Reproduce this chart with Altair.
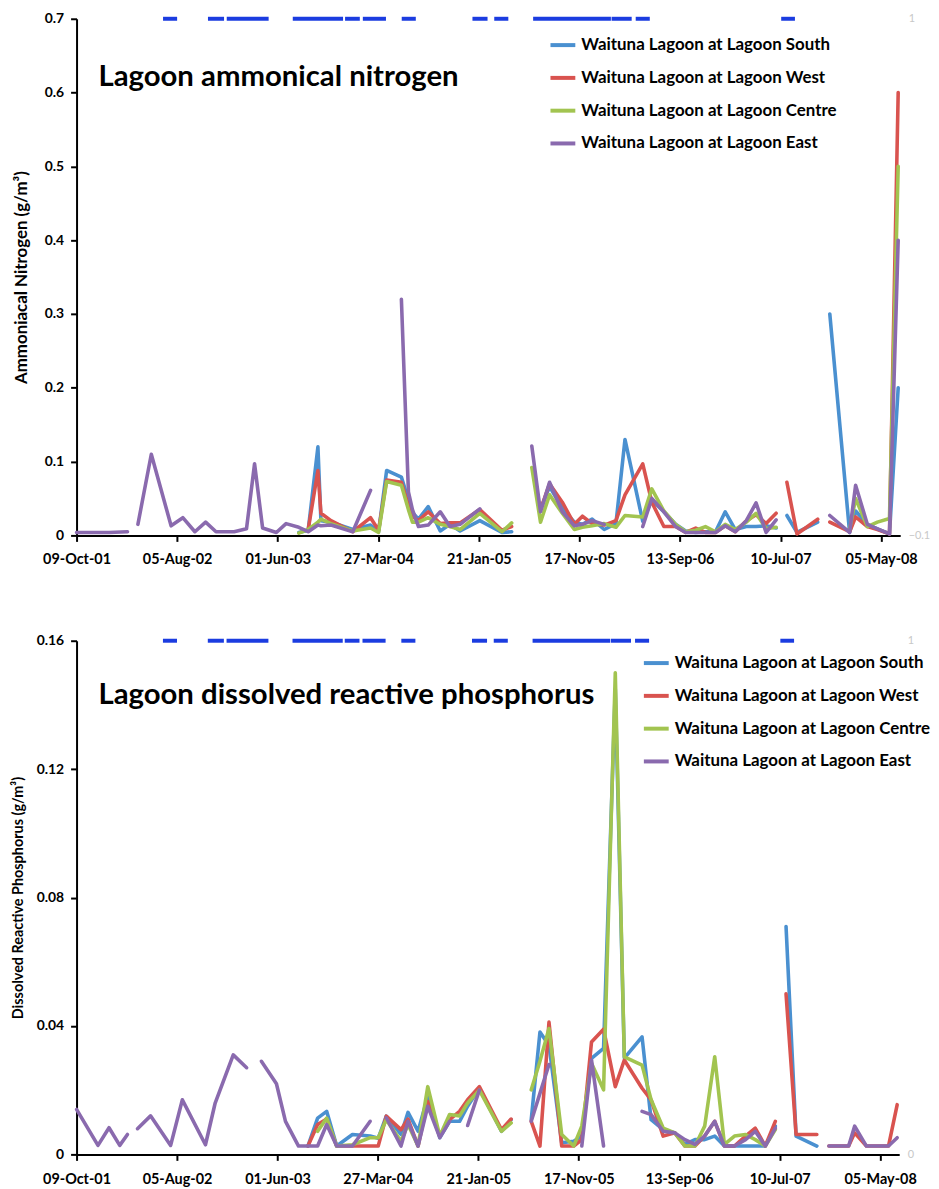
import altair as alt
import pandas as pd

N = None
FONT = "Lato"

SITES = ["Waituna Lagoon at Lagoon South", "Waituna Lagoon at Lagoon West",
         "Waituna Lagoon at Lagoon Centre", "Waituna Lagoon at Lagoon East"]
SITE_COLORS = ["#4A90D0", "#D9534F", "#A2C450", "#8A6AAE"]

X_TICKS = ["2001-10-09", "2002-08-05", "2003-06-01", "2004-03-27", "2005-01-21",
           "2005-11-17", "2006-09-13", "2007-07-10", "2008-05-05"]
X_DOMAIN = ["2001-10-09", "2008-07-01"]
N_YTICKS = [0, 0.1, 0.2, 0.3, 0.4, 0.5, 0.6, 0.7]
P_YTICKS = [0, 0.04, 0.08, 0.12, 0.16]

# ---------------- Ammoniacal nitrogen ----------------
n_dates = ["2001-10-09", "2001-12-12", "2002-01-14", "2002-03-10", "2002-03-25",
           "2002-04-10", "2002-05-20", "2002-07-18", "2002-08-22", "2002-09-27",
           "2002-10-29", "2002-11-29", "2003-01-22", "2003-02-28", "2003-03-24",
           "2003-04-17", "2003-05-28", "2003-06-26", "2003-08-03", "2003-08-31",
           "2003-09-29", "2003-10-08", "2003-11-07", "2004-01-11", "2004-03-04",
           "2004-03-28", "2004-04-21", "2004-06-04", "2004-06-25", "2004-07-07",
           "2004-07-25", "2004-08-23", "2004-09-28", "2004-10-27", "2004-11-26",
           "2005-01-24", "2005-03-31", "2005-04-29", "2005-05-30", "2005-06-28",
           "2005-07-24", "2005-08-20", "2005-09-27", "2005-11-02", "2005-11-26",
           "2005-12-25", "2006-01-30", "2006-03-06", "2006-04-02", "2006-05-25",
           "2006-06-21", "2006-07-27", "2006-08-31", "2006-09-30", "2006-10-30",
           "2006-11-28", "2006-12-28", "2007-01-26", "2007-02-25", "2007-03-30",
           "2007-04-28", "2007-05-28", "2007-06-27", "2007-07-12", "2007-07-29",
           "2007-08-28", "2007-10-29", "2007-11-15", "2007-12-04", "2008-02-01",
           "2008-02-19", "2008-03-25", "2008-04-24", "2008-05-30", "2008-06-25"]

n_south = [N, N, N, N, N,
           N, N, N, N, N,
           N, N, N, N, N,
           N, N, N, 0.004, 0.007,
           0.120, 0.020, 0.018, 0.008, 0.014,
           0.005, 0.088, 0.079, 0.048, 0.031,
           0.022, 0.039, 0.006, 0.015, 0.006,
           0.020, 0.004, 0.005, N, N,
           0.035, 0.066, 0.037, 0.018, 0.015,
           0.022, 0.008, 0.016, 0.130, 0.019,
           0.048, 0.032, 0.015, 0.006, 0.004,
           0.005, 0.005, 0.032, 0.008, 0.012,
           0.012, 0.013, 0.010, N, 0.027,
           0.004, 0.018, N, 0.300, 0.004,
           0.033, 0.015, 0.009, 0.002, 0.200]

n_west = [N, N, N, N, N,
          N, N, N, N, N,
          N, N, N, N, N,
          N, N, N, N, 0.008,
          0.088, 0.030, 0.020, 0.005, 0.024,
          0.007, 0.075, 0.072, 0.040, 0.026,
          0.020, 0.032, 0.016, 0.017, 0.017,
          0.035, 0.007, 0.012, N, N,
          0.035, 0.070, 0.045, 0.015, 0.026,
          0.016, 0.014, 0.020, 0.055, 0.097,
          0.045, 0.012, 0.012, 0.004, 0.010,
          0.004, 0.004, 0.013, 0.005, 0.020,
          0.028, 0.016, 0.030, N, 0.072,
          0.002, 0.022, N, 0.018, 0.005,
          0.025, 0.012, 0.008, 0.002, 0.600]

n_centre = [N, N, N, N, N,
            N, N, N, N, N,
            N, N, N, N, N,
            N, N, N, 0.003, 0.008,
            0.018, 0.022, 0.016, 0.006, 0.010,
            0.004, 0.073, 0.068, 0.035, 0.018,
            0.018, 0.024, 0.015, 0.012, 0.008,
            0.030, 0.005, 0.017, N, 0.092,
            0.018, 0.055, 0.030, 0.008, 0.011,
            0.013, 0.016, 0.011, 0.027, 0.025,
            0.063, 0.033, 0.015, 0.005, 0.007,
            0.012, 0.005, 0.015, 0.008, 0.018,
            0.030, 0.009, 0.011, N, N,
            N, N, N, N, 0.008,
            0.050, 0.012, 0.018, 0.023, 0.500]

n_east = [0.004, 0.004, 0.004, 0.005, N,
          0.015, 0.110, 0.013, 0.024, 0.005,
          0.018, 0.005, 0.005, 0.009, 0.097,
          0.010, 0.004, 0.016, 0.011, 0.005,
          0.014, 0.013, 0.014, 0.005, 0.061,
          N, N, 0.320, 0.059, 0.035,
          0.012, 0.014, 0.032, 0.012, 0.015,
          0.036, N, N, N, 0.121,
          0.032, 0.072, 0.032, 0.013, 0.015,
          0.020, 0.015, N, N, 0.012,
          0.050, 0.032, 0.012, 0.004, 0.004,
          0.004, 0.004, 0.013, 0.005, 0.020,
          0.044, 0.004, 0.021, N, N,
          N, N, N, 0.027, 0.004,
          0.068, 0.015, 0.009, 0.002, 0.400]

# ---------------- Dissolved reactive phosphorus ----------------
p_dates = ["2001-10-09", "2001-12-12", "2002-01-14", "2002-02-15", "2002-03-10",
           "2002-03-25", "2002-04-09", "2002-05-18", "2002-07-17", "2002-08-21",
           "2002-10-29", "2002-11-27", "2003-01-20", "2003-03-01", "2003-03-20",
           "2003-04-14", "2003-05-29", "2003-06-25", "2003-08-03", "2003-08-31",
           "2003-09-29", "2003-10-26", "2003-11-25", "2004-01-11", "2004-03-04",
           "2004-03-28", "2004-04-21", "2004-06-04", "2004-06-25", "2004-07-25",
           "2004-08-23", "2004-09-28", "2004-10-27", "2004-11-26", "2004-12-20",
           "2005-01-24", "2005-03-31", "2005-04-29", "2005-05-30", "2005-06-28",
           "2005-07-24", "2005-08-20", "2005-09-27", "2005-11-02", "2005-11-26",
           "2005-12-25", "2006-01-30", "2006-03-06", "2006-04-02", "2006-05-25",
           "2006-06-21", "2006-07-27", "2006-08-31", "2006-09-30", "2006-10-30",
           "2006-11-28", "2006-12-28", "2007-01-26", "2007-02-25", "2007-03-30",
           "2007-04-28", "2007-05-28", "2007-06-27", "2007-07-12", "2007-07-29",
           "2007-08-28", "2007-10-29", "2007-11-15", "2007-12-04", "2008-02-01",
           "2008-02-19", "2008-03-25", "2008-04-24", "2008-05-30", "2008-06-25"]

p_south = [N, N, N, N, N,
           N, N, N, N, N,
           N, N, N, N, N,
           N, N, N, N, 0.0026,
           0.0113, 0.0134, 0.0026, 0.0062, 0.0057,
           0.0050, 0.0119, 0.0062, 0.0131, 0.0072,
           0.0180, 0.0052, 0.0103, 0.0103, 0.0150,
           0.0206, 0.0072, 0.0108, N, 0.0108,
           0.0381, 0.0340, 0.0036, 0.0041, 0.0057,
           0.0299, 0.0330, 0.1450, 0.0300, 0.0366,
           0.0108, 0.0077, 0.0067, 0.0031, 0.0046,
           0.0046, 0.0057, 0.0026, 0.0026, 0.0026,
           0.0026, 0.0026, 0.0088, N, 0.0710,
           0.0057, 0.0026, N, N, N,
           N, N, N, N, N]

p_west = [N, N, N, N, N,
          N, N, N, N, N,
          N, N, N, N, N,
          N, N, N, N, 0.0026,
          0.0093, 0.0110, 0.0026, 0.0026, 0.0026,
          0.0026, 0.0119, 0.0077, 0.0110, 0.0026,
          0.0165, 0.0057, 0.0108, 0.0134, 0.0170,
          0.0211, 0.0077, 0.0110, N, 0.0103,
          0.0026, 0.0412, 0.0026, 0.0026, 0.0046,
          0.0350, 0.0390, 0.0211, 0.0294, 0.0206,
          0.0170, 0.0057, 0.0067, 0.0026, 0.0026,
          0.0057, 0.0103, 0.0026, 0.0026, 0.0057,
          0.0082, 0.0026, 0.0103, N, 0.0500,
          0.0062, 0.0062, N, 0.0026, 0.0026,
          0.0067, 0.0026, 0.0026, 0.0026, 0.0155]

p_centre = [N, N, N, N, N,
            N, N, N, N, N,
            N, N, N, N, N,
            N, N, N, N, N,
            0.0072, 0.0113, 0.0026, 0.0030, 0.0052,
            0.0052, 0.0108, 0.0041, 0.0093, 0.0026,
            0.0211, 0.0057, 0.0124, 0.0120, 0.0160,
            0.0200, 0.0072, 0.0098, N, 0.0201,
            0.0290, 0.0392, 0.0062, 0.0026, 0.0088,
            0.0284, 0.0201, 0.1500, 0.0304, 0.0278,
            0.0170, 0.0082, 0.0067, 0.0026, 0.0026,
            0.0088, 0.0304, 0.0031, 0.0057, 0.0062,
            0.0046, 0.0026, 0.0077, N, N,
            N, N, N, N, N,
            N, N, N, N, N]

p_east = [0.0140, 0.0028, 0.0083, 0.0028, 0.0062,
          N, 0.0080, 0.0120, 0.0028, 0.0170,
          0.0030, 0.0160, 0.0310, 0.0270, N,
          0.0290, 0.0220, 0.0103, 0.0026, 0.0026,
          0.0026, 0.0093, 0.0026, 0.0026, 0.0103,
          N, 0.0114, 0.0026, 0.0103, 0.0026,
          0.0150, 0.0052, 0.0103, N, 0.0090,
          0.0200, N, N, N, 0.0103,
          0.0190, 0.0280, N, N, 0.0026,
          0.0294, 0.0026, N, N, 0.0134,
          0.0124, 0.0072, 0.0067, 0.0046, 0.0031,
          0.0057, 0.0103, 0.0026, 0.0026, 0.0046,
          0.0072, 0.0026, 0.0082, N, N,
          N, N, N, 0.0026, 0.0026,
          0.0088, 0.0026, 0.0026, 0.0026, 0.0052]

# ---------------- secondary-axis indicator (value 1) ----------------
open_start = ["2002-06-24", "2002-11-05", "2002-12-31", "2003-07-16", "2003-12-19",
              "2004-02-10", "2004-06-05", "2005-01-02", "2005-03-08", "2005-07-02",
              "2006-02-21", "2006-05-04", "2007-07-12"]
open_end = ["2002-08-05", "2002-12-23", "2003-05-05", "2003-12-13", "2004-02-01",
            "2004-04-19", "2004-07-17", "2005-02-16", "2005-04-19", "2006-02-19",
            "2006-04-22", "2006-06-15", "2007-08-22"]
open_flag = [1, 1, 1, 1, 1, 1, 1, 1, 1, 1, 1, 1, 1]


def dt(s):
    y, m, d = (int(v) for v in s.split("-"))
    return alt.DateTime(year=y, month=m, date=d, utc=True)


def long_frame(dates, cols):
    rows = []
    for name, vals in zip(SITES, cols):
        seg = 0
        for d, v in zip(dates, vals):
            if v is None:
                seg += 1
                continue
            rows.append({"date": d, "value": v, "site": name, "seg": f"{name}-{seg}"})
    return pd.DataFrame(rows)


dash_df = pd.DataFrame({"start": open_start, "end": open_end, "flag": open_flag})


def panel(df, width, height, yticks, ytitle, ytitle_size, ytitle_x, title_txt,
          title_x, title_y, sec_min, legend_x, legend_y, xlabel_pad):
    xscale = alt.Scale(type="utc", domain=[dt(X_DOMAIN[0]), dt(X_DOMAIN[1])], nice=False)
    xaxis = alt.Axis(values=[dt(s) for s in X_TICKS], format="%d-%b-%y", title=None,
                     labelFont=FONT, labelFontSize=14.5, labelFontWeight="bold",
                     labelColor="black", labelPadding=xlabel_pad, tickSize=6,
                     tickWidth=2, tickColor="black", domainColor="black",
                     domainWidth=2, grid=False, labelOverlap=False, labelFlush=False)
    yaxis = alt.Axis(values=yticks, format="~g", title=ytitle, titleFont=FONT,
                     titleFontSize=ytitle_size, titleFontWeight="bold",
                     titleColor="black", titleX=ytitle_x, titleY=height / 2,
                     labelFont=FONT, labelFontSize=14, labelFontWeight="bold",
                     labelColor="black", labelPadding=7, tickSize=6, tickWidth=2,
                     tickColor="black", domainColor="black", domainWidth=2, grid=False)
    lines = alt.Chart(df).mark_line(strokeWidth=3.6, strokeJoin="round",
                                    strokeCap="round").encode(
        x=alt.X("date:T", scale=xscale, axis=xaxis),
        y=alt.Y("value:Q", scale=alt.Scale(domain=[0, yticks[-1]], nice=False), axis=yaxis),
        color=alt.Color("site:N", scale=alt.Scale(domain=SITES, range=SITE_COLORS),
                        legend=alt.Legend(title=None, orient="none", legendX=legend_x,
                                          legendY=legend_y, symbolType="stroke",
                                          symbolSize=625, symbolStrokeWidth=4,
                                          labelFont=FONT, labelFontSize=17,
                                          labelFontWeight="bold", labelColor="black",
                                          rowPadding=10, labelLimit=400, padding=0,
                                          labelOffset=4, direction="vertical")),
        detail="seg:N",
    )
    dashes = alt.Chart(dash_df).mark_rule(strokeWidth=4, color="#1B3CE0").encode(
        x=alt.X("start:T", scale=xscale, axis=xaxis),
        x2="end:T",
        y=alt.Y("flag:Q", scale=alt.Scale(domain=[sec_min, 1], nice=False, zero=False),
                axis=alt.Axis(orient="right", values=[sec_min, 1], format="~g",
                              title=None, domain=False, ticks=False, grid=False,
                              labelFont=FONT, labelFontSize=11, labelColor="#C8C8C8",
                              labelPadding=8)),
    )
    title = alt.Chart(alt.Data(values=[{"t": title_txt}])).mark_text(
        font=FONT, fontSize=29.5, fontWeight="bold", color="black", align="left",
        baseline="alphabetic").encode(
        x=alt.value(title_x), y=alt.value(title_y), text="t:N")
    return alt.layer(lines, dashes, title).resolve_scale(y="independent").properties(
        width=width, height=height)


p1 = panel(long_frame(n_dates, [n_south, n_west, n_centre, n_east]), 829, 520,
           N_YTICKS, "Ammoniacal Nitrogen (g/m³)", 17, -46,
           "Lagoon ammonical nitrogen", 22, 68, -0.1, 475, 12, 11)
p2 = panel(long_frame(p_dates, [p_south, p_west, p_centre, p_east]), 828, 517,
           P_YTICKS, "Dissolved Reactive Phosphorus (g/m³)", 14.5, -51,
           "Lagoon dissolved reactive phosphorus", 22, 64, 0, 569, 8, 12)

chart = alt.vconcat(p1, p2, spacing=68).resolve_scale(
    color="independent", x="independent", y="independent"
).configure(padding={"left": 3, "top": 0, "right": 0, "bottom": 0},
            background="white").configure_view(stroke=None)

chart.save("out.html", embed_options={"renderer": "svg", "actions": False})
